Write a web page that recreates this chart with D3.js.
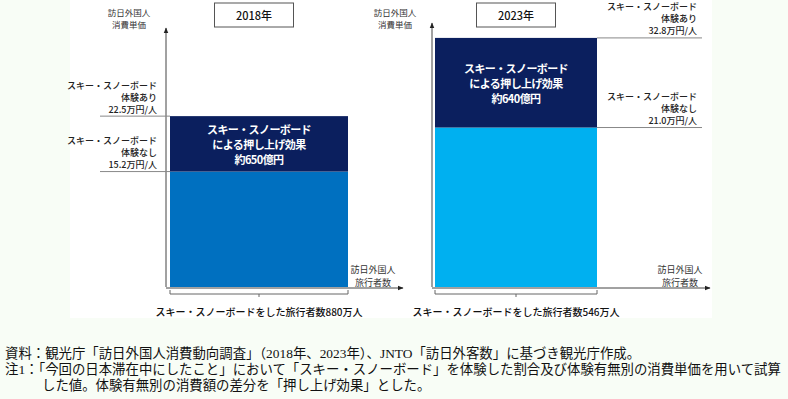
<!DOCTYPE html>
<html>
<head>
<meta charset="utf-8">
<script src="https://cdn.jsdelivr.net/npm/d3@7"></script>
<style>
  body { margin: 0; background: #f8fdf6; }
  text { font-family: "Noto Sans CJK JP", sans-serif; }
  .note { font-family: "Liberation Serif", "Noto Sans CJK JP", serif; font-size: 13.4px; fill: #111; }
</style>
</head>
<body>
<div id="chart"></div>
<script>
// data
var years = ['2018年', '2023年'];
var unitWith = [22.5, 32.8];      // 万円/人 (スキー・スノーボード体験あり)
var unitWithout = [15.2, 21.0];   // 万円/人 (体験なし)
var travelers = [880, 546];       // 万人
var effect = [650, 640];          // 億円
var withLabels = ['22.5万円/人', '32.8万円/人'];
var withoutLabels = ['15.2万円/人', '21.0万円/人'];
var notes = [
  '資料：観光庁「訪日外国人消費動向調査」（2018年、2023年）、JNTO「訪日外客数」に基づき観光庁作成。',
  '注1：「今回の日本滞在中にしたこと」において「スキー・スノーボード」を体験した割合及び体験有無別の消費単価を用いて試算',
  'した値。体験有無別の消費額の差分を「押し上げ効果」とした。'
];

var svgWidth = 788;
var svgHeight = 399;

var svg = d3.select('#chart').append('svg')
  .attr('width', svgWidth)
  .attr('height', svgHeight);

svg.append('rect')
  .attr('x', 70).attr('y', 0)
  .attr('width', 642).attr('height', 318)
  .attr('fill', '#fff');

var defs = svg.append('defs');
defs.append('marker')
  .attr('id', 'arrow')
  .attr('viewBox', '0 0 10 10')
  .attr('refX', 9).attr('refY', 5)
  .attr('markerWidth', 6).attr('markerHeight', 6)
  .attr('orient', 'auto')
  .append('path')
  .attr('d', 'M0,1L10,5L0,9Z')
  .attr('fill', '#222');

var yScale = d3.scaleLinear()
  .domain([0, 34.5])
  .range([287, 25]);

// layout per panel
var panels = [
  { axisX: 166, axisTop: 28, axisEnd: 403, barRange: [170, 348], side: 'left', lineX: 100, labelX: 157, titleCx: 254,
    innerOffset: 12.5, light: '#0070c0', dark: '#0b1f5e' },
  { axisX: 432, axisTop: 23, axisEnd: 710, barRange: [435, 597], side: 'right', lineX: 702, labelX: 697, titleCx: 516,
    innerOffset: 30, light: '#00b0f0', dark: '#0b1f5e' }
];

years.forEach(function (year, i) {
  var p = panels[i];
  var g = svg.append('g');
  var xScale = d3.scaleLinear()
    .domain([0, travelers[i]])
    .range(p.barRange);
  var x0 = xScale(0);
  var x1 = xScale(travelers[i]);
  var cx = (x0 + x1) / 2;

  // bars
  g.append('rect')
    .attr('x', x0).attr('width', x1 - x0)
    .attr('y', yScale(unitWithout[i]))
    .attr('height', yScale(0) - yScale(unitWithout[i]))
    .attr('fill', p.light);
  g.append('rect')
    .attr('x', x0).attr('width', x1 - x0)
    .attr('y', yScale(unitWith[i]))
    .attr('height', yScale(unitWithout[i]) - yScale(unitWith[i]))
    .attr('fill', p.dark);

  var inner = ['スキー・スノーボード', 'による押し上げ効果', '約' + effect[i] + '億円'];
  var innerTop = yScale(unitWith[i]) + p.innerOffset;
  g.selectAll(null)
    .data(inner)
    .enter().append('text')
    .attr('x', cx)
    .attr('y', function (d, k) { return innerTop + k * 15; })
    .attr('dominant-baseline', 'central')
    .attr('text-anchor', 'middle')
    .attr('font-size', 11)
    .attr('font-weight', 'bold')
    .attr('letter-spacing', -0.6)
    .attr('fill', '#fff')
    .text(function (d) { return d; });

  // axes
  g.append('line')
    .attr('x1', p.axisX).attr('x2', p.axisX)
    .attr('y1', yScale(0)).attr('y2', p.axisTop)
    .attr('stroke', '#444').attr('stroke-width', 1)
    .attr('marker-end', 'url(#arrow)');
  g.append('line')
    .attr('x1', p.axisX).attr('x2', p.axisEnd)
    .attr('y1', yScale(0) + 1).attr('y2', yScale(0) + 1)
    .attr('stroke', '#444').attr('stroke-width', 1)
    .attr('marker-end', 'url(#arrow)');

  // reference lines and labels
  [[unitWith[i], '体験あり', withLabels[i]], [unitWithout[i], '体験なし', withoutLabels[i]]].forEach(function (r) {
    var y = yScale(r[0]);
    var lx0 = p.side === 'left' ? p.lineX : x1;
    var lx1 = p.side === 'left' ? x0 : p.lineX;
    g.append('line')
      .attr('x1', lx0).attr('x2', lx1)
      .attr('y1', y).attr('y2', y)
      .attr('stroke', '#888').attr('stroke-width', 1);
    g.selectAll(null)
      .data(['スキー・スノーボード', r[1], r[2]])
      .enter().append('text')
      .attr('x', p.labelX)
      .attr('y', function (d, k) { return y - 31 + k * 12; })
      .attr('dominant-baseline', 'central')
      .attr('text-anchor', 'end')
      .attr('font-size', 9)
      .attr('font-weight', 500)
      .attr('fill', '#222')
      .text(function (d) { return d; });
  });

  // axis titles
  g.selectAll(null)
    .data(['訪日外国人', '消費単価'])
    .enter().append('text')
    .attr('x', p.axisX - 37)
    .attr('y', function (d, k) { return 12 + k * 12; })
    .attr('dominant-baseline', 'central')
    .attr('text-anchor', 'middle')
    .attr('font-size', 8.5)
    .attr('fill', '#333')
    .text(function (d) { return d; });
  g.selectAll(null)
    .data(['訪日外国人', '旅行者数'])
    .enter().append('text')
    .attr('x', p.axisEnd - 30)
    .attr('y', function (d, k) { return 269 + k * 13; })
    .attr('dominant-baseline', 'central')
    .attr('text-anchor', 'middle')
    .attr('font-size', 9)
    .attr('fill', '#333')
    .text(function (d) { return d; });

  // year box
  g.append('rect')
    .attr('x', p.titleCx - 39.5).attr('y', 3)
    .attr('width', 79).attr('height', 24)
    .attr('fill', '#fff')
    .attr('stroke', '#555').attr('stroke-width', 1);
  g.append('text')
    .attr('x', p.titleCx).attr('y', 15)
    .attr('dominant-baseline', 'central')
    .attr('text-anchor', 'middle')
    .attr('font-size', 11)
    .attr('font-weight', 500)
    .attr('fill', '#111')
    .text(year);

  // brace
  var by = yScale(0) + 7;
  g.append('path')
    .attr('d', 'M' + x0 + ',' + (by - 4) + 'V' + by + 'H' + x1 + 'V' + (by - 4) +
      'M' + cx + ',' + by + 'V' + (by + 3))
    .attr('fill', 'none')
    .attr('stroke', '#666').attr('stroke-width', 1);
  g.append('text')
    .attr('x', cx).attr('y', 311)
    .attr('dominant-baseline', 'central')
    .attr('text-anchor', 'middle')
    .attr('font-size', 10)
    .attr('font-weight', 500)
    .attr('fill', '#111')
    .text('スキー・スノーボードをした旅行者数' + travelers[i] + '万人');
});

// notes
svg.selectAll('.note')
  .data(notes)
  .enter().append('text')
  .attr('class', 'note')
  .attr('x', function (d, k) { return k === 2 ? 42 : 5; })
  .attr('y', function (d, k) { return 353 + k * 16; })
  .attr('dominant-baseline', 'central')
  .text(function (d) { return d; });
</script>
</body>
</html>
